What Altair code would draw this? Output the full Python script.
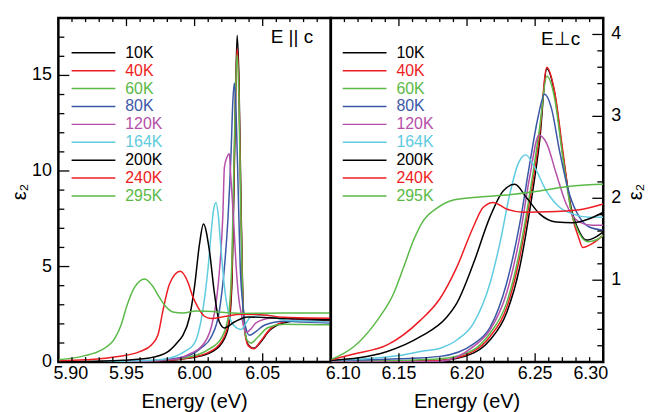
import altair as alt
import pandas as pd

# ---------------- E || c  (left panel) ----------------
PAR_10K_E = [5.900, 5.950, 5.975, 5.995, 6.010, 6.020, 6.025, 6.0275, 6.0295, 6.0312, 6.0325, 6.0338, 6.0352, 6.0370, 6.0395, 6.0435, 6.0480, 6.0550, 6.0650, 6.0800, 6.1000]
PAR_10K_V = [0.00, 0.03, 0.08, 0.20, 0.45, 1.0, 1.9, 4.3, 11.5, 17.1, 15.0, 9.5, 4.0, 1.6, 0.9, 0.72, 1.0, 1.65, 2.05, 2.2, 2.18]

PAR_40K_E = [5.900, 5.950, 5.975, 5.995, 6.010, 6.020, 6.025, 6.0275, 6.0295, 6.0312, 6.0325, 6.0338, 6.0352, 6.0370, 6.0395, 6.0438, 6.0480, 6.0550, 6.0650, 6.0800, 6.1000]
PAR_40K_V = [0.00, 0.03, 0.08, 0.22, 0.5, 1.1, 2.1, 4.8, 12.0, 16.4, 14.5, 9.0, 3.8, 1.5, 0.85, 0.70, 1.05, 1.7, 2.1, 2.25, 2.22]

PAR_60K_E = [5.900, 5.950, 5.975, 5.995, 6.010, 6.020, 6.025, 6.0275, 6.0295, 6.0312, 6.0325, 6.0338, 6.0352, 6.0370, 6.0390, 6.0414, 6.0463, 6.0536, 6.0658, 6.0800, 6.1000]
PAR_60K_V = [0.00, 0.03, 0.10, 0.25, 0.65, 1.3, 2.5, 5.6, 12.5, 16.1, 14.0, 8.5, 3.6, 1.6, 1.1, 1.0, 1.3, 1.8, 1.98, 1.97, 1.95]

PAR_80K_E = [5.900, 5.950, 5.975, 5.9975, 6.005, 6.0121, 6.0182, 6.0219, 6.0245, 6.0268, 6.0280, 6.0292, 6.0305, 6.0320, 6.0335, 6.0353, 6.0370, 6.0402, 6.0450, 6.0511, 6.0658, 6.0800, 6.1000]
PAR_80K_V = [0.00, 0.03, 0.10, 0.40, 0.75, 1.3, 2.7, 4.95, 7.5, 11.0, 13.5, 14.6, 13.0, 9.0, 5.0, 3.07, 2.0, 1.41, 1.6, 1.93, 2.14, 2.1, 2.05]

PAR_120K_E = [5.900, 5.950, 5.9878, 5.9975, 6.0048, 6.0121, 6.0160, 6.0185, 6.0207, 6.0219, 6.0237, 6.0255, 6.0265, 6.0285, 6.0305, 6.0325, 6.0341, 6.0360, 6.0380, 6.0415, 6.0450, 6.0560, 6.0655, 6.0800, 6.1000]
PAR_120K_V = [0.00, 0.04, 0.18, 0.47, 0.80, 1.8, 3.2, 5.0, 7.6, 10.2, 10.7, 10.9, 9.8, 7.6, 5.0, 3.3, 2.6, 1.85, 1.55, 1.75, 2.05, 2.3, 2.3, 2.15, 2.1]

PAR_164K_E = [5.900, 5.950, 5.9756, 5.9926, 6.0000, 6.0048, 6.0078, 6.0100, 6.0122, 6.0140, 6.0158, 6.0175, 6.0195, 6.0225, 6.0255, 6.0290, 6.0341, 6.0414, 6.0536, 6.0655, 6.0800, 6.1000]
PAR_164K_V = [0.00, 0.06, 0.14, 0.55, 1.0, 2.2, 3.6, 5.0, 6.8, 8.0, 8.35, 7.6, 5.8, 3.6, 2.4, 1.9, 1.71, 2.36, 2.45, 2.2, 2.15, 2.1]

PAR_200K_E = [5.900, 5.930, 5.9476, 5.967, 5.9805, 5.9878, 5.9914, 5.9963, 5.9999, 6.0036, 6.0065, 6.0109, 6.0146, 6.0182, 6.0219, 6.0292, 6.0390, 6.0655, 6.1000]
PAR_200K_V = [0.02, 0.05, 0.10, 0.22, 0.55, 1.07, 1.4, 2.36, 3.92, 6.17, 7.23, 5.82, 3.58, 2.1, 1.79, 2.1, 2.36, 2.28, 2.23]

PAR_240K_E = [5.900, 5.9195, 5.9439, 5.9597, 5.9683, 5.9732, 5.9768, 5.9816, 5.9895, 5.9951, 5.9988, 6.0024, 6.0072, 6.0121, 6.0231, 6.0341, 6.0463, 6.0655, 6.1000]
PAR_240K_V = [0.07, 0.12, 0.29, 0.55, 0.9, 1.45, 2.71, 4.09, 4.75, 4.18, 3.4, 2.88, 2.4, 2.28, 2.4, 2.5, 2.49, 2.35, 2.3]

PAR_295K_E = [5.900, 5.9195, 5.9317, 5.9414, 5.9460, 5.9500, 5.9560, 5.9634, 5.9695, 5.9743, 5.9792, 5.9841, 5.9914, 6.0012, 6.0085, 6.0341, 6.0655, 6.1000]
PAR_295K_V = [0.12, 0.34, 0.64, 1.24, 1.93, 2.88, 3.92, 4.35, 3.95, 3.37, 2.88, 2.62, 2.57, 2.67, 2.66, 2.55, 2.57, 2.57]

# ---------------- E _|_ c  (right panel) ----------------
PER_10K_E = [6.100, 6.150, 6.1803, 6.2046, 6.2168, 6.229, 6.2387, 6.246, 6.2533, 6.2586, 6.2642, 6.2703, 6.2764, 6.2825, 6.2874, 6.2947, 6.300]
PER_10K_V = [0.0, 0.01, 0.02, 0.11, 0.27, 0.6, 1.16, 1.85, 2.7, 3.58, 3.29, 2.54, 1.89, 1.59, 1.49, 1.53, 1.59]

PER_40K_E = [6.100, 6.150, 6.1803, 6.2046, 6.2168, 6.229, 6.2387, 6.246, 6.2533, 6.2586, 6.2642, 6.2703, 6.2764, 6.2825, 6.2849, 6.2922, 6.300]
PER_40K_V = [0.0, 0.01, 0.02, 0.13, 0.31, 0.66, 1.28, 1.97, 2.78, 3.6, 3.31, 2.58, 1.85, 1.49, 1.40, 1.45, 1.55]

PER_60K_E = [6.100, 6.150, 6.1803, 6.2046, 6.2168, 6.229, 6.2387, 6.246, 6.2533, 6.2586, 6.2642, 6.2703, 6.2764, 6.2825, 6.2885, 6.2947, 6.300]
PER_60K_V = [0.0, 0.02, 0.04, 0.15, 0.35, 0.72, 1.36, 2.05, 2.86, 3.49, 3.23, 2.5, 1.85, 1.57, 1.47, 1.49, 1.55]

PER_80K_E = [6.100, 6.150, 6.1803, 6.2046, 6.2168, 6.229, 6.2387, 6.246, 6.252, 6.2569, 6.2618, 6.2679, 6.2752, 6.2825, 6.2898, 6.300]
PER_80K_V = [0.02, 0.04, 0.07, 0.22, 0.42, 0.96, 1.69, 2.42, 2.98, 3.27, 3.11, 2.58, 2.05, 1.77, 1.65, 1.61]

PER_120K_E = [6.100, 6.150, 6.1803, 6.2046, 6.2168, 6.229, 6.2387, 6.246, 6.2528, 6.2582, 6.2655, 6.2728, 6.2825, 6.2922, 6.300]
PER_120K_V = [0.0, 0.0, 0.01, 0.19, 0.39, 0.84, 1.53, 2.26, 2.77, 2.68, 2.3, 1.93, 1.71, 1.67, 1.67]

PER_164K_E = [6.100, 6.150, 6.1657, 6.1803, 6.1925, 6.2046, 6.2168, 6.2241, 6.2314, 6.2375, 6.2431, 6.2496, 6.2582, 6.2679, 6.2776, 6.2898, 6.300]
PER_164K_V = [0.02, 0.08, 0.13, 0.17, 0.27, 0.47, 0.96, 1.45, 2.05, 2.42, 2.53, 2.38, 2.09, 1.89, 1.81, 1.77, 1.77]

PER_200K_E = [6.100, 6.1414, 6.1657, 6.1852, 6.1925, 6.2046, 6.2168, 6.2265, 6.235, 6.2436, 6.2533, 6.2655, 6.2776, 6.2898, 6.300]
PER_200K_V = [0.02, 0.13, 0.31, 0.55, 0.72, 1.2, 1.77, 2.09, 2.17, 2.01, 1.81, 1.71, 1.70, 1.75, 1.83]

PER_240K_E = [6.100, 6.117, 6.1414, 6.1657, 6.1803, 6.1925, 6.2046, 6.2119, 6.2192, 6.229, 6.2411, 6.2655, 6.2825, 6.300]
PER_240K_V = [0.03, 0.10, 0.21, 0.51, 0.78, 1.16, 1.65, 1.89, 1.95, 1.87, 1.83, 1.84, 1.86, 1.93]

PER_295K_E = [6.100, 6.117, 6.1341, 6.1462, 6.1535, 6.1608, 6.1681, 6.1779, 6.190, 6.2046, 6.229, 6.2533, 6.2776, 6.300]
PER_295K_V = [0.03, 0.19, 0.51, 0.84, 1.16, 1.49, 1.73, 1.88, 1.98, 2.01, 2.04, 2.09, 2.15, 2.17]

TEMPS = ["10K", "40K", "60K", "80K", "120K", "164K", "200K", "240K", "295K"]
COLORS = ["#000000", "#ee1d23", "#5bb947", "#3b58a7", "#b54fa9", "#5fcbe0", "#000000", "#ee1d23", "#5bb947"]

PAR_SERIES = [(PAR_10K_E, PAR_10K_V), (PAR_40K_E, PAR_40K_V), (PAR_60K_E, PAR_60K_V),
              (PAR_80K_E, PAR_80K_V), (PAR_120K_E, PAR_120K_V), (PAR_164K_E, PAR_164K_V),
              (PAR_200K_E, PAR_200K_V), (PAR_240K_E, PAR_240K_V), (PAR_295K_E, PAR_295K_V)]
PER_SERIES = [(PER_10K_E, PER_10K_V), (PER_40K_E, PER_40K_V), (PER_60K_E, PER_60K_V),
              (PER_80K_E, PER_80K_V), (PER_120K_E, PER_120K_V), (PER_164K_E, PER_164K_V),
              (PER_200K_E, PER_200K_V), (PER_240K_E, PER_240K_V), (PER_295K_E, PER_295K_V)]

LEFT_X_LABELS = [5.90, 5.95, 6.00, 6.05]
RIGHT_X_LABELS = [6.10, 6.15, 6.20, 6.25, 6.30]
LEFT_Y_LABELS = [0, 5, 10, 15]
RIGHT_Y_LABELS = [1, 2, 3, 4]
LEFT_X_MAJOR = [5.90, 5.95, 6.00, 6.05, 6.10]
RIGHT_X_MAJOR = [6.10, 6.15, 6.20, 6.25, 6.30]
LEFT_X_MINOR = [round(5.90 + 0.01 * k, 2) for k in range(21) if k % 5]
RIGHT_X_MINOR = [round(6.10 + 0.01 * k, 2) for k in range(21) if k % 5]
LEFT_Y_MAJOR = [0, 5, 10, 15]
LEFT_Y_MINOR = [k for k in range(0, 19) if k % 5]
RIGHT_Y_MAJOR = [1, 2, 3, 4]
RIGHT_Y_MINOR = [round(0.2 * k, 1) for k in range(1, 22) if k % 5]

X_TITLE = "Energy (eV)"
Y_TITLE = "ε₂"
ANNOT_LEFT = pd.DataFrame({"E": [6.087], "v": [17.0], "txt": ["E || c"]})
ANNOT_RIGHT = pd.DataFrame({"E": [6.2830], "v": [3.95], "txt": ["E\u22a5c"]})

FONT = "Liberation Sans"
W, H = 274, 346
XMAJ_LEN, XMIN_LEN, YMAJ_LEN, YMIN_LEN = 9, 5, 11, 6


def to_df(series):
    rows = []
    for t, (es, vs) in zip(TEMPS, series):
        for i, (e, v) in enumerate(zip(es, vs)):
            rows.append({"T": t, "E": e, "v": v, "i": i})
    return pd.DataFrame(rows)


def panel(series, xdom, ydom, xlabels, ylabels, xmaj, xmin, ymaj, ymin, yside, annot, legend_x):
    df = to_df(series)
    color = alt.Color(
        "T:N",
        scale=alt.Scale(domain=TEMPS, range=COLORS),
        sort=TEMPS,
        legend=alt.Legend(
            orient="none", legendX=legend_x, legendY=26, title=None,
            symbolType="stroke", symbolSize=1936, symbolStrokeWidth=1.5,
            labelFontSize=16, labelFont=FONT, labelOffset=9, padding=0,
            clipHeight=17.8, rowPadding=0,
            labelColor=alt.ExprRef(expr="scale('color', datum.value)"),
        ),
    )
    xs = alt.Scale(domain=xdom, nice=False, zero=False)
    ys = alt.Scale(domain=ydom, nice=False, zero=False)
    X = alt.X("E:Q", scale=xs, axis=None)
    Y = alt.Y("v:Q", scale=ys, axis=None)

    def xticks(values, y0, y1):
        return alt.Chart(pd.DataFrame({"E": values})).mark_rule(color="black", strokeWidth=1.3).encode(
            x=X, y=alt.value(y0), y2=alt.value(y1))

    def yticks(values, x0, x1):
        return alt.Chart(pd.DataFrame({"v": values})).mark_rule(color="black", strokeWidth=1.3).encode(
            y=Y, x=alt.value(x0), x2=alt.value(x1))

    lines = alt.Chart(df).mark_line(clip=True, strokeWidth=1.5, interpolate="monotone").encode(
        x=X, y=Y, color=color, detail="T:N", order="i:Q")
    layers = [lines,
              xticks(xmaj, H, H - XMAJ_LEN), xticks(xmin, H, H - XMIN_LEN),
              xticks(xmaj, 0, XMAJ_LEN - 1), xticks(xmin, 0, XMIN_LEN - 1)]
    if yside == "left":
        layers += [yticks(ymaj, 0, YMAJ_LEN), yticks(ymin, 0, YMIN_LEN)]
    else:
        layers += [yticks(ymaj, W, W - YMAJ_LEN), yticks(ymin, W, W - YMIN_LEN)]

    # annotation
    layers.append(alt.Chart(annot).mark_text(align="right", baseline="middle", fontSize=19, font=FONT,
                                             color="black").encode(x=X, y=Y, text="txt:N"))

    # x tick labels (edge labels flush, as in the reference)
    groups = {"left": [], "center": [], "right": []}
    for e in xlabels:
        if abs(e - xdom[0]) < 1e-9:
            groups["left"].append(e)
        elif abs(e - xdom[1]) < 1e-9:
            groups["right"].append(e)
        else:
            groups["center"].append(e)
    for al, vals in groups.items():
        if not vals:
            continue
        dx = -5 if al == "left" else (5 if al == "right" else 0)
        ldf = pd.DataFrame({"E": vals, "txt": [f"{e:.2f}" for e in vals]})
        layers.append(alt.Chart(ldf).mark_text(align=al, baseline="alphabetic", dx=dx, fontSize=18,
                                               font=FONT, color="black").encode(
            x=X, y=alt.value(H + 17), text="txt:N"))

    # y tick labels
    ydf = pd.DataFrame({"v": ylabels, "txt": [str(v) for v in ylabels]})
    if yside == "left":
        layers.append(alt.Chart(ydf).mark_text(align="right", baseline="middle", fontSize=18, font=FONT,
                                               color="black").encode(x=alt.value(-6.5), y=Y, text="txt:N"))
        ytx = -39
    else:
        layers.append(alt.Chart(ydf).mark_text(align="left", baseline="middle", fontSize=18, font=FONT,
                                               color="black").encode(x=alt.value(W + 8), y=Y, text="txt:N"))
        ytx = W + 33

    # axis titles
    layers.append(alt.Chart(pd.DataFrame({"txt": [X_TITLE]})).mark_text(
        align="center", baseline="alphabetic", fontSize=20, font=FONT, color="black").encode(
        x=alt.value(W / 2), y=alt.value(H + 46), text="txt:N"))
    layers.append(alt.Chart(pd.DataFrame({"txt": [Y_TITLE]})).mark_text(
        align="center", baseline="middle", angle=270, fontSize=20, font=FONT, color="black").encode(
        x=alt.value(ytx), y=alt.value(175), text="txt:N"))

    return alt.layer(*layers).properties(width=W, height=H)


left = panel(PAR_SERIES, [5.90, 6.10], [0, 18], LEFT_X_LABELS, LEFT_Y_LABELS, LEFT_X_MAJOR,
             LEFT_X_MINOR, LEFT_Y_MAJOR, LEFT_Y_MINOR, "left", ANNOT_LEFT, 12.3)
right = panel(PER_SERIES, [6.10, 6.30], [0, 4.2], RIGHT_X_LABELS, RIGHT_Y_LABELS, RIGHT_X_MAJOR,
              RIGHT_X_MINOR, RIGHT_Y_MAJOR, RIGHT_Y_MINOR, "right", ANNOT_RIGHT, 11)

chart = alt.hconcat(left, right, spacing=0, bounds="flush").resolve_scale(
    color="shared").resolve_legend(color="independent").configure_view(
    stroke="black", strokeWidth=2.5).properties(
    padding={"left": 7.7, "top": 15, "right": 0, "bottom": 0}, background="white")

chart.save("out.html", embed_options={"renderer": "svg", "actions": False})
